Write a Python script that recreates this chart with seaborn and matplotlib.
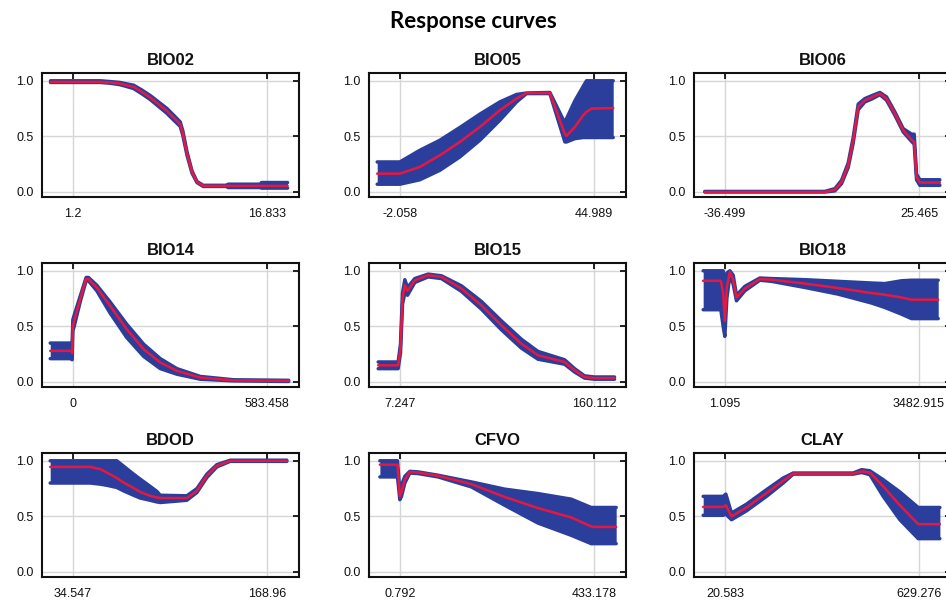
import matplotlib
matplotlib.use("Agg")
import matplotlib.pyplot as plt
import seaborn as sns

# ---- data (x in variable units, y = response) ----
bio02_x = [-0.6, 3.4, 4.2, 5.0, 5.55, 6.1, 6.76, 7.43, 8.1, 8.77, 9.31, 9.85, 10.06, 10.4, 10.8, 11.2, 11.7, 13.6, 13.7, 16.3, 16.4, 18.5]
bio02_mean = [0.99, 0.99, 0.985, 0.975, 0.96, 0.945, 0.90, 0.85, 0.79, 0.73, 0.67, 0.61, 0.53, 0.345, 0.18, 0.09, 0.055, 0.055, 0.055, 0.055, 0.055, 0.055]
bio02_low = [0.985, 0.985, 0.978, 0.965, 0.948, 0.93, 0.883, 0.832, 0.77, 0.708, 0.648, 0.59, 0.51, 0.33, 0.17, 0.085, 0.05, 0.05, 0.04, 0.04, 0.035, 0.035]
bio02_high = [1.0, 1.0, 0.993, 0.985, 0.972, 0.96, 0.917, 0.868, 0.81, 0.752, 0.692, 0.63, 0.55, 0.36, 0.19, 0.095, 0.06, 0.06, 0.07, 0.07, 0.085, 0.085]

bio05_x = [-7.55, -2.06, 2.79, 7.64, 12.49, 17.34, 22.19, 26.24, 28.66, 34.32, 37.96, 38.36, 40.38, 42.4, 43.2, 44.42, 49.68]
bio05_mean = [0.165, 0.165, 0.225, 0.33, 0.45, 0.585, 0.735, 0.84, 0.89, 0.89, 0.52, 0.505, 0.585, 0.69, 0.72, 0.75, 0.755]
bio05_low = [0.07, 0.07, 0.11, 0.195, 0.315, 0.465, 0.645, 0.81, 0.885, 0.885, 0.45, 0.45, 0.48, 0.49, 0.49, 0.49, 0.49]
bio05_high = [0.27, 0.27, 0.375, 0.465, 0.58, 0.70, 0.81, 0.877, 0.89, 0.895, 0.62, 0.66, 0.82, 0.95, 1.0, 1.0, 1.0]

bio06_x = [-42.9, -4.56, -1.36, 0.77, 2.89, 4.49, 6.09, 8.22, 10.35, 13.01, 15.14, 17.80, 20.46, 23.12, 23.97, 24.72, 25.78, 32.17]
bio06_mean = [0.0, 0.0, 0.02, 0.09, 0.24, 0.465, 0.765, 0.825, 0.85, 0.885, 0.84, 0.705, 0.555, 0.47, 0.45, 0.135, 0.085, 0.085]
bio06_low = [0.0, 0.0, 0.01, 0.075, 0.22, 0.44, 0.74, 0.81, 0.835, 0.875, 0.825, 0.69, 0.54, 0.455, 0.43, 0.11, 0.06, 0.06]
bio06_high = [0.005, 0.005, 0.03, 0.105, 0.26, 0.49, 0.79, 0.84, 0.865, 0.895, 0.855, 0.72, 0.57, 0.52, 0.52, 0.16, 0.11, 0.11]

bio14_x = [-68, -4, -2, 0, 4, 22, 40, 47, 72, 112, 162, 213, 263, 313, 383, 483, 649]
bio14_mean = [0.28, 0.28, 0.26, 0.50, 0.55, 0.745, 0.925, 0.925, 0.85, 0.685, 0.475, 0.295, 0.175, 0.10, 0.04, 0.015, 0.01]
bio14_low = [0.21, 0.21, 0.20, 0.46, 0.50, 0.72, 0.91, 0.91, 0.82, 0.62, 0.40, 0.23, 0.12, 0.07, 0.025, 0.01, 0.005]
bio14_high = [0.35, 0.35, 0.35, 0.56, 0.60, 0.77, 0.94, 0.94, 0.87, 0.72, 0.52, 0.34, 0.21, 0.12, 0.05, 0.02, 0.015]

bio15_x = [-9.8, 5.9, 7.77, 9.35, 11.18, 13.28, 19.05, 29.53, 40.02, 55.75, 71.49, 87.22, 102.95, 116.06, 137.04, 144.9, 152.8, 160.6, 176.4]
bio15_mean = [0.15, 0.15, 0.30, 0.75, 0.87, 0.82, 0.915, 0.96, 0.945, 0.84, 0.69, 0.51, 0.345, 0.24, 0.18, 0.105, 0.045, 0.035, 0.035]
bio15_low = [0.12, 0.12, 0.26, 0.70, 0.80, 0.78, 0.895, 0.945, 0.93, 0.815, 0.655, 0.47, 0.305, 0.205, 0.16, 0.09, 0.035, 0.025, 0.025]
bio15_high = [0.18, 0.18, 0.34, 0.80, 0.92, 0.85, 0.93, 0.97, 0.955, 0.865, 0.725, 0.55, 0.385, 0.275, 0.20, 0.12, 0.055, 0.045, 0.045]

bio18_x = [-388, -71, -29, 1.1, 37, 91, 151, 210, 360, 629, 839, 1437, 2035, 2634, 2873, 3172, 3351, 3830]
bio18_mean = [0.91, 0.91, 0.8, 0.55, 0.85, 0.99, 0.92, 0.76, 0.84, 0.925, 0.92, 0.885, 0.845, 0.80, 0.785, 0.76, 0.74, 0.74]
bio18_low = [0.65, 0.65, 0.50, 0.41, 0.75, 0.96, 0.88, 0.73, 0.82, 0.915, 0.905, 0.85, 0.79, 0.71, 0.67, 0.61, 0.57, 0.57]
bio18_high = [1.0, 1.0, 1.0, 0.80, 0.98, 1.0, 0.96, 0.78, 0.86, 0.935, 0.93, 0.92, 0.905, 0.89, 0.885, 0.91, 0.915, 0.915]

bdod_x = [18.84, 46.56, 53.5, 58.1, 65.0, 69.65, 76.6, 81.2, 88.1, 92.75, 95.1, 113.5, 120.5, 127.4, 134.3, 143.55, 182.8]
bdod_mean = [0.945, 0.945, 0.925, 0.895, 0.845, 0.805, 0.755, 0.72, 0.685, 0.67, 0.665, 0.665, 0.73, 0.865, 0.955, 1.0, 1.0]
bdod_low = [0.80, 0.80, 0.79, 0.78, 0.76, 0.73, 0.69, 0.665, 0.645, 0.63, 0.625, 0.645, 0.715, 0.85, 0.945, 0.995, 0.995]
bdod_high = [1.0, 1.0, 1.0, 1.0, 1.0, 0.952, 0.88, 0.835, 0.77, 0.725, 0.69, 0.685, 0.75, 0.88, 0.965, 1.005, 1.005]

cfvo_x = [-43.7, -4.4, 0.79, 4.5, 11.9, 23.0, 41.6, 86.1, 160.2, 234.4, 308.6, 382.7, 427.2, 434.7, 482.9]
cfvo_mean = [0.965, 0.965, 0.68, 0.72, 0.83, 0.90, 0.895, 0.865, 0.79, 0.675, 0.575, 0.49, 0.41, 0.405, 0.405]
cfvo_low = [0.855, 0.855, 0.65, 0.68, 0.80, 0.89, 0.885, 0.855, 0.765, 0.60, 0.44, 0.33, 0.255, 0.255, 0.255]
cfvo_high = [1.0, 1.0, 0.72, 0.78, 0.86, 0.905, 0.90, 0.87, 0.81, 0.745, 0.705, 0.655, 0.58, 0.58, 0.58]

clay_x = [-47.4, 15.4, 23.7, 41.5, 88.6, 151.3, 203.6, 235.0, 423.3, 449.4, 475.5, 517.4, 569.7, 627.2, 695.2]
clay_mean = [0.585, 0.585, 0.60, 0.50, 0.58, 0.71, 0.82, 0.885, 0.885, 0.905, 0.895, 0.77, 0.60, 0.43, 0.43]
clay_low = [0.51, 0.51, 0.52, 0.47, 0.55, 0.68, 0.80, 0.88, 0.88, 0.895, 0.875, 0.68, 0.47, 0.30, 0.30]
clay_high = [0.68, 0.68, 0.70, 0.53, 0.61, 0.74, 0.845, 0.89, 0.89, 0.92, 0.91, 0.83, 0.72, 0.58, 0.58]

names = ["BIO02", "BIO05", "BIO06", "BIO14", "BIO15", "BIO18", "BDOD", "CFVO", "CLAY"]
tick_min = [1.2, -2.058, -36.499, 0, 7.247, 1.095, 34.547, 0.792, 20.583]
tick_max = [16.833, 44.989, 25.465, 583.458, 160.112, 3482.915, 168.96, 433.178, 629.276]
tick_min_lbl = ["1.2", "-2.058", "-36.499", "0", "7.247", "1.095", "34.547", "0.792", "20.583"]
tick_max_lbl = ["16.833", "44.989", "25.465", "583.458", "160.112", "3482.915", "168.96", "433.178", "629.276"]

curves = [
    (bio02_x, bio02_mean, bio02_low, bio02_high),
    (bio05_x, bio05_mean, bio05_low, bio05_high),
    (bio06_x, bio06_mean, bio06_low, bio06_high),
    (bio14_x, bio14_mean, bio14_low, bio14_high),
    (bio15_x, bio15_mean, bio15_low, bio15_high),
    (bio18_x, bio18_mean, bio18_low, bio18_high),
    (bdod_x, bdod_mean, bdod_low, bdod_high),
    (cfvo_x, cfvo_mean, cfvo_low, cfvo_high),
    (clay_x, clay_mean, clay_low, clay_high),
]

sns.set_style("white")
plt.rcParams['font.family'] = ['Liberation Sans', 'DejaVu Sans']

BLUE = "#2c3e9c"
RED = "#e8173f"

W, H = 946, 604
fig = plt.figure(figsize=(W / 100, H / 100), dpi=100)

col_left = [42, 369, 694]
row_top = [73, 263, 453]
box_w, box_h = 257, 124

for i, name in enumerate(names):
    r, c = divmod(i, 3)
    ax = fig.add_axes([col_left[c] / W, (H - row_top[r] - box_h) / H, box_w / W, box_h / H])
    x, m, lo, hi = curves[i]

    ax.fill_between(x, lo, hi, color=BLUE, lw=0, zorder=2)
    sns.lineplot(x=x, y=lo, ax=ax, color=BLUE, lw=2.5, estimator=None, sort=False, zorder=2)
    sns.lineplot(x=x, y=hi, ax=ax, color=BLUE, lw=2.5, estimator=None, sort=False, zorder=2)
    sns.lineplot(x=x, y=m, ax=ax, color=RED, lw=1.8, estimator=None, sort=False, zorder=3)

    # min/max ticks sit at ~12% and ~87.5% of the box width
    span = (tick_max[i] - tick_min[i]) / 0.755
    left = tick_min[i] - 0.12 * span
    ax.set_xlim(left, left + span)
    ax.set_ylim(-0.045, 1.07)

    ax.set_xticks([tick_min[i], tick_max[i]])
    ax.set_xticklabels([tick_min_lbl[i], tick_max_lbl[i]])
    ax.set_yticks([0.0, 0.5, 1.0])
    ax.set_yticklabels(["0.0", "0.5", "1.0"])
    ax.grid(True, color="#d6d6d6", lw=1.0, zorder=0)
    ax.set_axisbelow(True)

    ax.tick_params(direction="in", length=4.5, width=1.3, top=True, right=True,
                   labelsize=9, colors="#111111")
    ax.tick_params(axis="x", pad=8)
    ax.tick_params(axis="y", pad=6)
    for s in ax.spines.values():
        s.set_visible(True)
        s.set_color("#111111")
        s.set_linewidth(1.5)
    ax.set_xlabel("")
    ax.set_ylabel("")
    ax.set_title(name, fontsize=12, fontweight="bold", pad=6, color="#111111")

fig.text(0.5, 1 - 21 / H, "Response curves", ha="center", va="center",
         fontsize=16, fontweight="bold", color="black", family=["Lato", "DejaVu Sans"])

fig.savefig("out.png", dpi=100)
